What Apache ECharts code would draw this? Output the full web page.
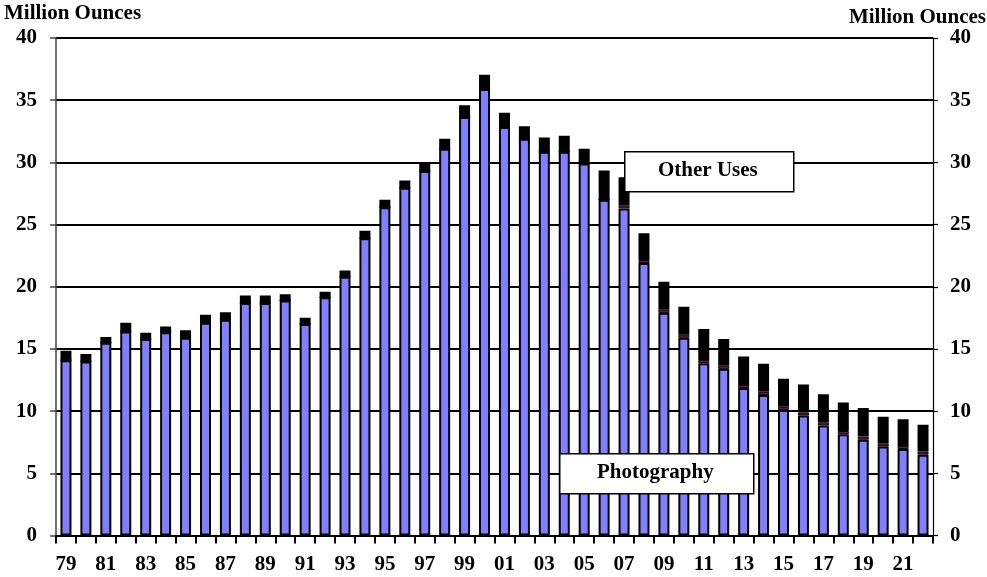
<!DOCTYPE html>
<html>
<head>
<meta charset="utf-8">
<script src="https://cdn.jsdelivr.net/npm/echarts@6/dist/echarts.min.js"></script>
<style>
html,body{margin:0;padding:0;background:#fff;}
#chart{width:987px;height:577px;}
</style>
</head>
<body>
<div id="chart"></div>
<script>
var years = ['79','80','81','82','83','84','85','86','87','88','89','90','91','92','93','94','95','96','97','98','99','00','01','02','03','04','05','06','07','08','09','10','11','12','13','14','15','16','17','18','19','20','21','22'];
var photography = [14.1,14.0,15.5,16.4,15.8,16.35,15.9,17.1,17.35,18.7,18.7,18.9,17.0,19.15,20.8,23.9,26.4,27.95,29.3,31.1,33.65,35.9,32.85,31.9,30.85,30.85,29.9,27.0,26.3,21.9,17.9,15.9,13.85,13.4,11.85,11.3,10.1,9.65,8.85,8.15,7.7,7.15,6.95,6.5];
var photoOther = [0,0,0,0,0,0,0,0,0,0,0,0,0,0,0,0,0,0,0,0,0,0,0,0,0,0,0,0,0.25,0.25,0.25,0.25,0.25,0.25,0.25,0.25,0.25,0.25,0.25,0.25,0.25,0.25,0.25,0.25];
var otherUses = [0.75,0.6,0.45,0.7,0.5,0.45,0.6,0.65,0.6,0.6,0.6,0.5,0.5,0.45,0.5,0.6,0.6,0.6,0.65,0.8,0.95,1.15,1.15,1.0,1.15,1.3,1.2,2.35,2.25,2.15,2.25,2.25,2.5,2.15,2.3,2.25,2.25,2.25,2.25,2.3,2.3,2.15,2.15,2.15];
var yTicks = [0,5,10,15,20,25,30,35,40];

var FONT = '"Liberation Serif","Times New Roman",serif';
var chart = echarts.init(document.getElementById('chart'));
var labelStyle = {fontFamily: FONT, fontWeight: 'bold', fontSize: 21, color: '#000'};

function txt(o) {
  return Object.assign({fontFamily: FONT, fontWeight: 'bold', fontSize: 21, fill: '#000'}, o);
}

var option = {
  backgroundColor: '#fff',
  animation: false,
  grid: {left: 56, right: 54, top: 38, bottom: 41.5, containLabel: false},
  xAxis: {
    type: 'category',
    data: years,
    boundaryGap: true,
    axisLine: {show: true, lineStyle: {color: '#000', width: 2}},
    axisTick: {show: true, interval: 0, length: 8, lineStyle: {color: '#000', width: 2}},
    axisLabel: Object.assign({interval: 1, margin: 19}, labelStyle),
    splitLine: {show: false}
  },
  yAxis: [
    {
      type: 'value', min: yTicks[0], max: yTicks[yTicks.length - 1], interval: 5,
      position: 'left',
      axisLine: {show: true, lineStyle: {color: '#444', width: 1.5}},
      axisTick: {show: true, length: 6, lineStyle: {color: '#444', width: 1.5}},
      axisLabel: Object.assign({margin: 19}, labelStyle),
      splitLine: {show: true, lineStyle: {color: '#000', width: 2}}
    },
    {
      type: 'value', min: yTicks[0], max: yTicks[yTicks.length - 1], interval: 5,
      position: 'right',
      axisLine: {show: true, lineStyle: {color: '#000', width: 1.2}},
      axisTick: {show: true, length: 5, lineStyle: {color: '#000', width: 1.2}},
      axisLabel: Object.assign({margin: 17}, labelStyle),
      splitLine: {show: false}
    }
  ],
  series: [
    {
      name: 'Photography', type: 'bar', stack: 'total', data: photography,
      barWidth: 11,
      itemStyle: {color: '#8080ff', borderColor: '#000', borderWidth: 2}
    },
    {
      name: 'Photography (other)', type: 'bar', stack: 'total', data: photoOther,
      barWidth: 11,
      itemStyle: {color: '#80104f', borderColor: '#000', borderWidth: 1}
    },
    {
      name: 'Other Uses', type: 'bar', stack: 'total', data: otherUses,
      barWidth: 11,
      itemStyle: {color: '#000', borderColor: '#000', borderWidth: 2}
    }
  ],
  graphic: [
    {type: 'text', left: 4, top: 3, z: 100, style: txt({text: 'Million Ounces'})},
    {type: 'text', right: 1, top: 7, z: 100, style: txt({text: 'Million Ounces'})},
    {type: 'rect', left: 624, top: 151, z: 100,
      shape: {x: 0, y: 0, width: 169, height: 40},
      style: {fill: '#fff', stroke: '#000', lineWidth: 1.5}},
    {type: 'text', left: 658, top: 160, z: 101, style: txt({text: 'Other Uses'})},
    {type: 'rect', left: 559, top: 453, z: 100,
      shape: {x: 0, y: 0, width: 194, height: 40},
      style: {fill: '#fff', stroke: '#000', lineWidth: 1.5}},
    {type: 'text', left: 597, top: 462, z: 101, style: txt({text: 'Photography'})}
  ]
};
chart.setOption(option);
</script>
</body>
</html>
